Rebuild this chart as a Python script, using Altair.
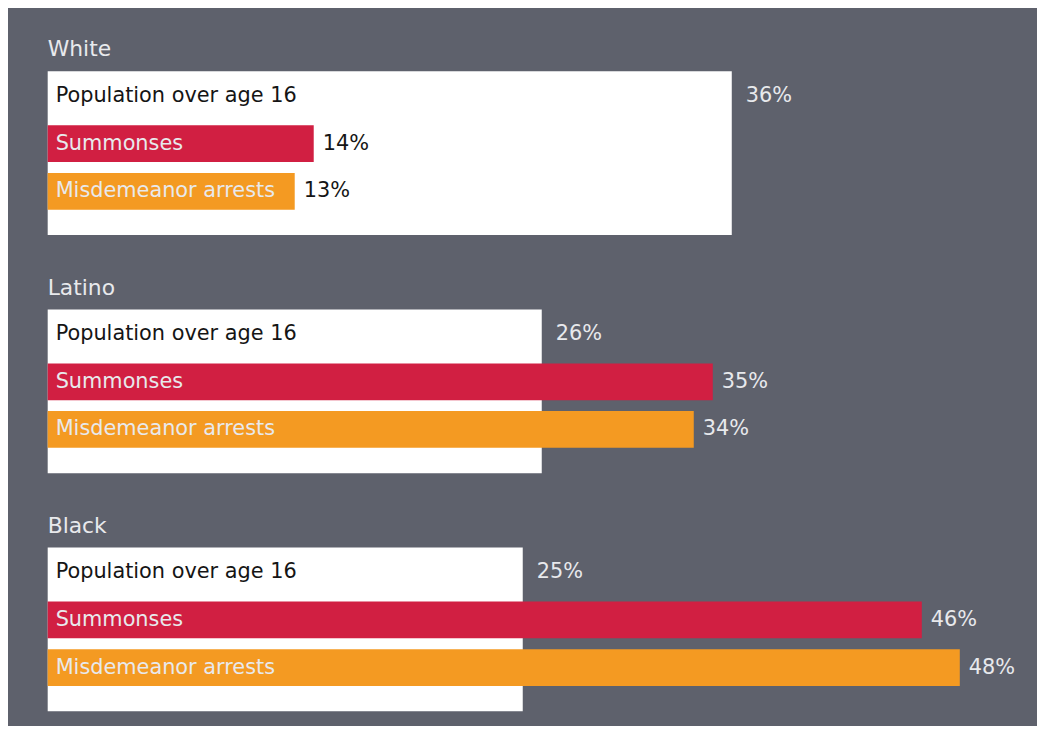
import altair as alt
import pandas as pd

# ---- data ----
groups = ["White", "Latino", "Black"]
series = ["Population over age 16", "Summonses", "Misdemeanor arrests"]
population = [36, 26, 25]
summonses = [14, 35, 46]
misdemeanor = [13, 34, 48]

BG = "#5e616c"
RED = "#d11f42"
ORANGE = "#f49a22"
LIGHT = "#e8e9ec"
DARK = "#151515"
FONT = "DejaVu Sans"

rows = []
for g, p, s, m in zip(groups, population, summonses, misdemeanor):
    for name, v in zip(series, [p, s, m]):
        rows.append({"group": g, "series": name, "value": v, "pop": p})
df = pd.DataFrame(rows)

W = 996
H = 165
x_scale = alt.Scale(domain=[0, W / 19.15], nice=False, zero=True)
y_scale = alt.Scale(domain=series, paddingInner=0.23, paddingOuter=0.333, align=0.2)


def panel(g):
    base = alt.Chart(df).transform_filter(alt.datum.group == g)
    box = base.transform_filter(alt.datum.series == series[0]).mark_rect(color="white").encode(
        x=alt.X("value:Q", scale=x_scale, axis=None),
        x2=alt.datum(0),
        y=alt.value(0),
        y2=alt.value(H),
    )
    bars = base.transform_filter(alt.datum.series != series[0]).mark_bar().encode(
        x=alt.X("value:Q", scale=x_scale, axis=None),
        y=alt.Y("series:N", scale=y_scale, axis=None),
        color=alt.Color("series:N", scale=alt.Scale(domain=series[1:], range=[RED, ORANGE]), legend=None),
    )
    names = base.mark_text(align="left", baseline="middle", font=FONT, fontSize=21).encode(
        x=alt.value(8),
        y=alt.Y("series:N", scale=y_scale, axis=None),
        text="series:N",
        color=alt.condition(alt.datum.series == series[0], alt.value(DARK), alt.value(LIGHT)),
    )
    vals = base.transform_calculate(label="datum.value + '%'")
    val_color = alt.condition("datum.value < datum.pop", alt.value(DARK), alt.value(LIGHT))
    pop_vals = vals.transform_filter(alt.datum.series == series[0]).mark_text(
        align="left", baseline="middle", font=FONT, fontSize=21, dx=14
    ).encode(
        x=alt.X("value:Q", scale=x_scale, axis=None),
        y=alt.Y("series:N", scale=y_scale, axis=None),
        text="label:N",
        color=val_color,
    )
    other_vals = vals.transform_filter(alt.datum.series != series[0]).mark_text(
        align="left", baseline="middle", font=FONT, fontSize=21, dx=9
    ).encode(
        x=alt.X("value:Q", scale=x_scale, axis=None),
        y=alt.Y("series:N", scale=y_scale, axis=None),
        text="label:N",
        color=val_color,
    )
    return alt.layer(box, bars, names, pop_vals, other_vals).properties(
        width=W,
        height=H,
        title=alt.TitleParams(
            g, anchor="start", color=LIGHT, font=FONT, fontSize=22, fontWeight="normal", offset=10
        ),
    )


chart = (
    alt.vconcat(*[panel(g) for g in groups], spacing=42)
    .configure(background=BG, padding={"left": 40, "top": 28, "right": 1, "bottom": 12})
    .configure_view(stroke=None)
)

chart.save("out.html", embed_options={"renderer": "svg", "actions": False})
